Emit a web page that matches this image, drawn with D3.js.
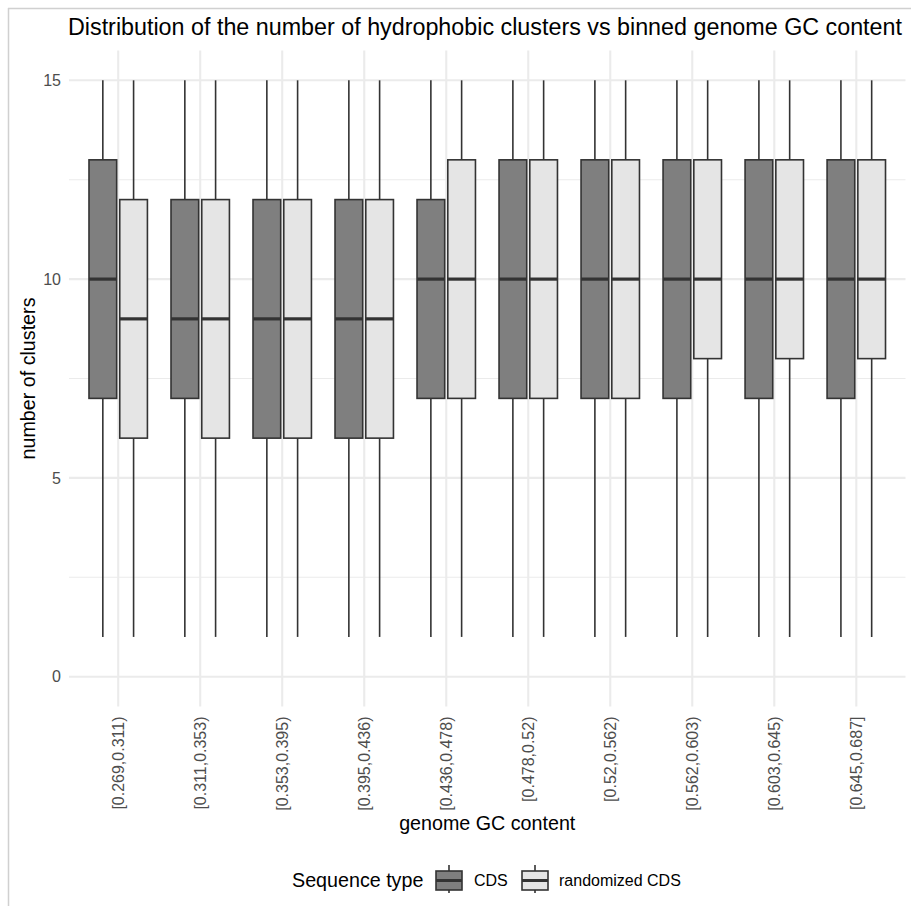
<!DOCTYPE html>
<html>
<head>
<meta charset="utf-8">
<script src="https://cdn.jsdelivr.net/npm/d3@7"></script>
<style>
  html, body { margin: 0; padding: 0; background: #fff; }
  svg { display: block; font-family: "Liberation Sans", Arial, sans-serif; }
</style>
</head>
<body>
<svg id="chart" width="911" height="906"></svg>
<script>
// GC-content bins (x categories)
const bins = ["[0.269,0.311)", "[0.311,0.353)", "[0.353,0.395)", "[0.395,0.436)", "[0.436,0.478)",
              "[0.478,0.52)", "[0.52,0.562)", "[0.562,0.603)", "[0.603,0.645)", "[0.645,0.687]"];
const seqTypes = ["CDS", "randomized CDS"];

// Box statistics per bin: [lower whisker, Q1, median, Q3, upper whisker]
const cdsStats = [
  [1, 7, 10, 13, 15], [1, 7, 9, 12, 15], [1, 6, 9, 12, 15], [1, 6, 9, 12, 15], [1, 7, 10, 12, 15],
  [1, 7, 10, 13, 15], [1, 7, 10, 13, 15], [1, 7, 10, 13, 15], [1, 7, 10, 13, 15], [1, 7, 10, 13, 15]
];
const randStats = [
  [1, 6, 9, 12, 15], [1, 6, 9, 12, 15], [1, 6, 9, 12, 15], [1, 6, 9, 12, 15], [1, 7, 10, 13, 15],
  [1, 7, 10, 13, 15], [1, 7, 10, 13, 15], [1, 8, 10, 13, 15], [1, 8, 10, 13, 15], [1, 8, 10, 13, 15]
];
const yTicks = [0, 5, 10, 15];
const yMinor = [2.5, 7.5, 12.5];
const fills = ["#7f7f7f", "#e5e5e5"];

const svg = d3.select("#chart");
const panel = { left: 69, right: 905.5, top: 50.5, bottom: 706.5 };

// outer frame lines
svg.append("line").attr("x1", 8.5).attr("x2", 8.5).attr("y1", 8).attr("y2", 906)
  .attr("stroke", "#d0d0d0").attr("stroke-width", 1.5);
svg.append("line").attr("x1", 8).attr("x2", 911).attr("y1", 8.5).attr("y2", 8.5)
  .attr("stroke", "#d0d0d0").attr("stroke-width", 1.5);

const x = d3.scaleBand().domain(bins)
  .range([panel.left, panel.right]).paddingOuter(0.1).paddingInner(0);
const y = d3.scaleLinear().domain([-0.75, 15.75]).range([panel.bottom, panel.top]);
const step = x.bandwidth();
const center = b => x(b) + step / 2;

const grid = svg.append("g");
// minor horizontal grid
grid.selectAll(".minor").data(yMinor).join("line")
  .attr("x1", panel.left).attr("x2", panel.right)
  .attr("y1", d => y(d)).attr("y2", d => y(d))
  .attr("stroke", "#ebebeb").attr("stroke-width", 1.1);
// major horizontal grid
grid.selectAll(".major").data(yTicks).join("line")
  .attr("x1", panel.left).attr("x2", panel.right)
  .attr("y1", d => y(d)).attr("y2", d => y(d))
  .attr("stroke", "#ebebeb").attr("stroke-width", 2.1);
// vertical grid at categories
grid.selectAll(".vmajor").data(bins).join("line")
  .attr("x1", d => center(d)).attr("x2", d => center(d))
  .attr("y1", panel.top).attr("y2", panel.bottom)
  .attr("stroke", "#ebebeb").attr("stroke-width", 2.1);

// y axis labels
const yAxis = d3.axisLeft(y).tickValues(yTicks).tickSize(0).tickPadding(0);
svg.append("g").attr("transform", `translate(${panel.left - 8},0)`).call(yAxis)
  .call(g => g.select(".domain").remove())
  .call(g => g.selectAll("text").attr("fill", "#4d4d4d").attr("font-size", 16)
    .attr("font-family", "Liberation Sans, Arial, sans-serif"));

// x axis labels, rotated
const xAxis = d3.axisBottom(x).tickSize(0).tickPadding(0);
svg.append("g").attr("transform", `translate(0,${panel.bottom})`).call(xAxis)
  .call(g => g.select(".domain").remove())
  .call(g => g.selectAll("text")
    .attr("fill", "#4d4d4d").attr("font-size", 16)
    .attr("font-family", "Liberation Sans, Arial, sans-serif")
    .attr("text-anchor", "end").attr("dy", null).attr("y", 0)
    .attr("transform", "translate(0,10) rotate(-90)")
    .attr("dominant-baseline", "central"));

// boxes
const dodge = step * 0.1875;
const boxW = step * 0.3375;
const stroke = "#333333";
const series = [cdsStats, randStats];
series.forEach((stats, si) => {
  const g = svg.append("g");
  const data = bins.map((b, i) => ({ b, s: stats[i] }));
  const cx = d => center(d.b) + (si === 0 ? -dodge : dodge);
  // whiskers
  g.selectAll(".wu").data(data).join("line")
    .attr("x1", cx).attr("x2", cx).attr("y1", d => y(d.s[3])).attr("y2", d => y(d.s[4]))
    .attr("stroke", stroke).attr("stroke-width", 1.6);
  g.selectAll(".wl").data(data).join("line")
    .attr("x1", cx).attr("x2", cx).attr("y1", d => y(d.s[0])).attr("y2", d => y(d.s[1]))
    .attr("stroke", stroke).attr("stroke-width", 1.6);
  g.selectAll("rect").data(data).join("rect")
    .attr("x", d => cx(d) - boxW / 2).attr("width", boxW)
    .attr("y", d => y(d.s[3])).attr("height", d => y(d.s[1]) - y(d.s[3]))
    .attr("fill", fills[si]).attr("stroke", stroke).attr("stroke-width", 1.6);
  g.selectAll(".med").data(data).join("line")
    .attr("x1", d => cx(d) - boxW / 2).attr("x2", d => cx(d) + boxW / 2)
    .attr("y1", d => y(d.s[2])).attr("y2", d => y(d.s[2]))
    .attr("stroke", stroke).attr("stroke-width", 3.2);
});

// title
svg.append("text").attr("x", 68).attr("y", 35).attr("font-size", 23.3).attr("fill", "#000")
  .text("Distribution of the number of hydrophobic clusters vs binned genome GC content");

// axis titles
svg.append("text").attr("x", (panel.left + panel.right) / 2).attr("y", 830)
  .attr("text-anchor", "middle").attr("font-size", 19.7).attr("fill", "#000")
  .text("genome GC content");
svg.append("text").attr("transform", `translate(35,${(panel.top + panel.bottom) / 2}) rotate(-90)`)
  .attr("text-anchor", "middle").attr("font-size", 19.7).attr("fill", "#000")
  .text("number of clusters");

// legend
const lg = svg.append("g");
lg.append("text").attr("x", 292).attr("y", 887).attr("font-size", 19.7).attr("fill", "#000")
  .text("Sequence type");
const keyX = [436, 522];
const labX = [474, 559];
seqTypes.forEach((t, i) => {
  const kx = keyX[i], kw = 26, cxk = kx + kw / 2;
  lg.append("line").attr("x1", cxk).attr("x2", cxk).attr("y1", 865).attr("y2", 893)
    .attr("stroke", stroke).attr("stroke-width", 1.6);
  lg.append("rect").attr("x", kx).attr("y", 871).attr("width", kw).attr("height", 19)
    .attr("fill", fills[i]).attr("stroke", stroke).attr("stroke-width", 1.6);
  lg.append("line").attr("x1", kx).attr("x2", kx + kw).attr("y1", 880.5).attr("y2", 880.5)
    .attr("stroke", stroke).attr("stroke-width", 3);
  lg.append("text").attr("x", labX[i]).attr("y", 886).attr("font-size", 16).attr("fill", "#000")
    .text(t);
});
</script>
</body>
</html>
